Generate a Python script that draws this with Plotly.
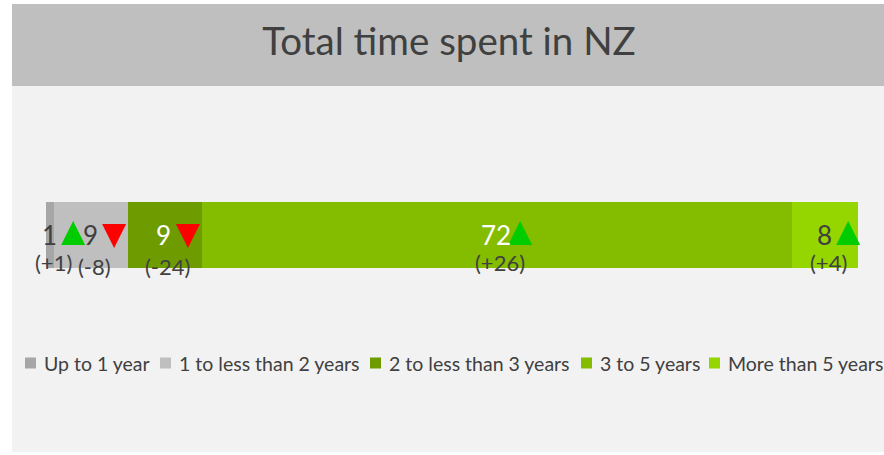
import plotly.graph_objects as go

categories = ["Up to 1 year", "1 to less than 2 years", "2 to less than 3 years",
              "3 to 5 years", "More than 5 years"]
values = [1, 9, 9, 72, 8]
changes = [1, -8, -24, 26, 4]
colors = ["#A6A6A6", "#BFBFBF", "#6E9B00", "#84BC00", "#95D600"]
label_colors = ["#404040", "#404040", "#FFFFFF", "#FFFFFF", "#404040"]

# legend layout (pixel positions of the swatches, left to right)
legend_swatch_px = [25, 160, 370, 581, 709]

W, H = 884, 455
FONT = "Lato"

# plot geometry
x_left_px, x_right_px = 46, 858
px_per_x = (x_right_px - x_left_px) / sum(values)
px_per_unit = 66.0
top_px, bot_px, center_px = 100, 340, 235

fig = go.Figure()
for cat, v, c in zip(categories, values, colors):
    fig.add_trace(go.Bar(
        x=[v], y=[0], orientation="h", name=cat, width=1,
        marker=dict(color=c, line=dict(width=0)),
        hoverinfo="skip", showlegend=False,
    ))

annotations = []
centers = []
cum = 0
for v, ch, lc in zip(values, changes, label_colors):
    xc = cum + v / 2
    centers.append(xc)
    cum += v
    annotations.append(dict(x=xc, y=0, xref="x", yref="y", text=str(v), showarrow=False,
                            xshift=-1, yshift=0,
                            font=dict(family=FONT, size=26, color=lc)))
    annotations.append(dict(x=xc, y=0, xref="x", yref="y",
                            text="(%+d)" % ch, showarrow=False,
                            xshift=3, yshift=-27 if ch > 0 else -31,
                            font=dict(family=FONT, size=22, color="#404040")))

# change-direction triangles (apex-anchored arrow markers), offset right of the value
tri_dx = 23 / px_per_x
up_x = [c + tri_dx for c, ch in zip(centers, changes) if ch > 0]
dn_x = [c + tri_dx for c, ch in zip(centers, changes) if ch < 0]
fig.add_trace(go.Scatter(
    x=up_x, y=[(center_px - 221) / px_per_unit] * len(up_x), mode="markers",
    marker=dict(symbol="arrow-up", size=24, color="#00CC00", line=dict(width=0)),
    hoverinfo="skip", showlegend=False, cliponaxis=False))
fig.add_trace(go.Scatter(
    x=dn_x, y=[-(248 - center_px) / px_per_unit] * len(dn_x), mode="markers",
    marker=dict(symbol="arrow-down", size=24, color="#FF0000", line=dict(width=0)),
    hoverinfo="skip", showlegend=False, cliponaxis=False))

shapes = [
    dict(type="rect", xref="paper", yref="paper", x0=12 / W, x1=1, y0=1 - 452 / H, y1=1 - 4 / H,
         fillcolor="#F2F2F2", line=dict(width=0), layer="below"),
    dict(type="rect", xref="paper", yref="paper", x0=12 / W, x1=1, y0=1 - 86 / H, y1=1 - 4 / H,
         fillcolor="#BFBFBF", line=dict(width=0), layer="below"),
]

# legend drawn as swatches + labels
leg_y = 363
for cat, c, sx in zip(categories, colors, legend_swatch_px):
    shapes.append(dict(type="rect", xref="paper", yref="paper",
                       x0=sx / W, x1=(sx + 11) / W,
                       y0=1 - (leg_y + 5.5) / H, y1=1 - (leg_y - 5.5) / H,
                       fillcolor=c, line=dict(width=0)))
    annotations.append(dict(x=(sx + 17) / W, y=1 - leg_y / H, xref="paper", yref="paper",
                            xanchor="left", yanchor="middle", text=cat, showarrow=False,
                            font=dict(family=FONT, size=19.5, color="#404040")))

fig.update_layout(
    width=W, height=H,
    margin=dict(l=0, r=0, t=0, b=0),
    paper_bgcolor="#FFFFFF", plot_bgcolor="rgba(0,0,0,0)",
    barmode="stack",
    bargap=0,
    title=dict(text="Total time spent in NZ", x=449 / W, y=1 - 42 / H,
               xanchor="center", yanchor="middle", xref="paper", yref="paper",
               font=dict(family=FONT, size=38.5, color="#404040")),
    xaxis=dict(domain=[x_left_px / W, x_right_px / W], range=[0, sum(values)],
               visible=False, fixedrange=True),
    yaxis=dict(domain=[1 - bot_px / H, 1 - top_px / H],
               range=[-(bot_px - center_px) / px_per_unit, (center_px - top_px) / px_per_unit],
               visible=False, fixedrange=True),
    showlegend=False,
    annotations=annotations,
    shapes=shapes,
)

fig.write_html("out.html", config={"displayModeBar": False},
               post_script="document.body.style.margin='0';document.body.style.overflow='hidden';")
